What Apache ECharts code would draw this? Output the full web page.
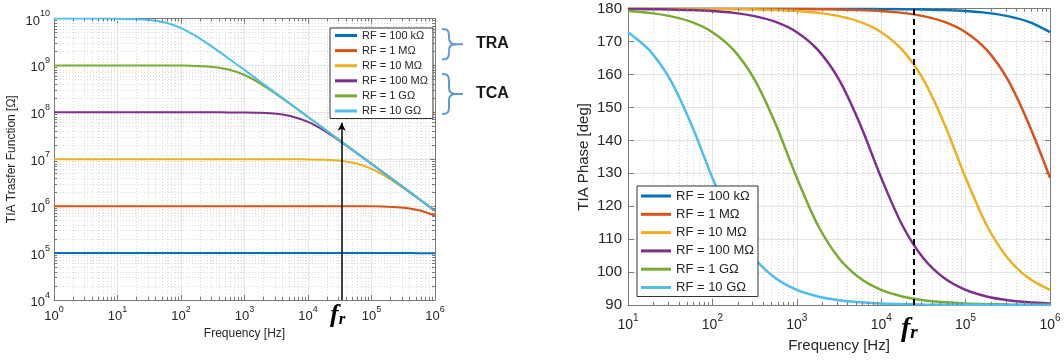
<!DOCTYPE html>
<html>
<head>
<meta charset="utf-8">
<script src="https://cdn.jsdelivr.net/npm/echarts@6/dist/echarts.min.js"></script>
<style>
  html, body { margin: 0; padding: 0; background: #fff; }
  #chart { width: 1064px; height: 362px; }
</style>
</head>
<body>
<div id="chart"></div>
<script>
// series names / colours (MATLAB default order)
const names = ['RF = 100 kΩ', 'RF = 1 MΩ', 'RF = 10 MΩ', 'RF = 100 MΩ', 'RF = 1 GΩ', 'RF = 10 GΩ'];
const colors = ['#0072BD', '#D95319', '#EDB120', '#7E2F8E', '#77AC30', '#4DBEEE'];

// frequencies, quarter decade steps [Hz]
const freqMag = [1, 1.778, 3.162, 5.623, 10, 17.78, 31.62, 56.23, 100, 177.8, 316.2, 562.3,
  1000, 1778, 3162, 5623, 1e4, 17783, 31623, 56234, 1e5, 177828, 316228, 562341, 1e6];
const freqPhase = [10, 17.78, 31.62, 56.23, 100, 177.8, 316.2, 562.3,
  1000, 1778, 3162, 5623, 1e4, 17783, 31623, 56234, 1e5, 177828, 316228, 562341, 1e6];

// |Z| [ohm]
const mag100k = [1e5, 1e5, 1e5, 1e5, 1e5, 1e5, 1e5, 1e5, 1e5, 1e5, 1e5, 1e5, 1e5, 1e5, 1e5, 1e5,
  1e5, 1e5, 1e5, 1e5, 1e5, 99980, 99920, 99750, 99230];
const mag1M = [1e6, 1e6, 1e6, 1e6, 1e6, 1e6, 1e6, 1e6, 1e6, 1e6, 1e6, 1e6, 1e6, 1e6, 1e6, 1e6, 1e6,
  999800, 999200, 997500, 992300, 976200, 930000, 818100, 624700];
const mag10M = [1e7, 1e7, 1e7, 1e7, 1e7, 1e7, 1e7, 1e7, 1e7, 1e7, 1e7, 1e7, 1e7,
  9.998e6, 9.992e6, 9.975e6, 9.923e6, 9.762e6, 9.3e6, 8.181e6, 6.247e6, 4.103e6, 2.452e6, 1.408e6, 7.97e5];
const mag100M = [1e8, 1e8, 1e8, 1e8, 1e8, 1e8, 1e8, 1e8, 1e8,
  9.998e7, 9.992e7, 9.975e7, 9.923e7, 9.762e7, 9.3e7, 8.181e7, 6.247e7, 4.103e7, 2.452e7, 1.408e7,
  7.97e6, 4.49e6, 2.53e6, 1.42e6, 8.0e5];
const mag1G = [1e9, 1e9, 1e9, 1e9, 1e9,
  9.998e8, 9.992e8, 9.975e8, 9.923e8, 9.762e8, 9.3e8, 8.181e8, 6.247e8, 4.103e8, 2.452e8, 1.408e8,
  7.97e7, 4.49e7, 2.53e7, 1.42e7, 8.0e6, 4.5e6, 2.53e6, 1.42e6, 8.0e5];
const mag10G = [1e10, 9.998e9, 9.992e9, 9.975e9, 9.923e9, 9.762e9, 9.3e9, 8.181e9, 6.247e9, 4.103e9,
  2.452e9, 1.408e9, 7.97e8, 4.49e8, 2.53e8, 1.42e8, 8.0e7, 4.5e7, 2.53e7, 1.42e7, 8.0e6, 4.5e6,
  2.53e6, 1.42e6, 8.0e5];

// phase [deg]
const ph100k = [180, 180, 180, 180, 180, 180, 180, 180, 180, 180, 180, 180,
  179.93, 179.87, 179.77, 179.6, 179.28, 178.73, 177.74, 175.98, 172.87];
const ph1M = [180, 180, 180, 180, 179.99, 179.99, 179.98, 179.96, 179.93, 179.87, 179.77, 179.6,
  179.28, 178.73, 177.74, 175.98, 172.87, 167.47, 158.43, 144.9, 128.66];
const ph10M = [179.99, 179.99, 179.98, 179.96, 179.93, 179.87, 179.77, 179.6, 179.28, 178.73, 177.74,
  175.98, 172.87, 167.47, 158.43, 144.9, 128.66, 114.22, 104.2, 98.1, 94.57];
const ph100M = [179.93, 179.87, 179.77, 179.6, 179.28, 178.73, 177.74, 175.98, 172.87, 167.47, 158.43,
  144.9, 128.66, 114.22, 104.2, 98.1, 94.57, 92.58, 91.45, 90.82, 90.46];
const ph1G = [179.28, 178.73, 177.74, 175.98, 172.87, 167.47, 158.43, 144.9, 128.66, 114.22, 104.2,
  98.1, 94.57, 92.58, 91.45, 90.82, 90.46, 90.26, 90.14, 90.08, 90.05];
const ph10G = [172.87, 167.47, 158.43, 144.9, 128.66, 114.22, 104.2, 98.1, 94.57, 92.58, 91.45,
  90.82, 90.46, 90.26, 90.14, 90.08, 90.05, 90.03, 90.01, 90.01, 90.0];

const magSets = [mag100k, mag1M, mag10M, mag100M, mag1G, mag10G];
const phSets = [ph100k, ph1M, ph10M, ph100M, ph1G, ph10G];

// f_r markers
const frLeft = 34000;
const frLeftTop = 6.0e7;
const frRight = 24000;

// minor log grid (2..9 per decade)
const minorMult = [2, 3, 4, 5, 6, 7, 8, 9];
const decadesX = [1, 10, 100, 1000, 1e4, 1e5];
const decadesXr = [10, 100, 1000, 1e4, 1e5];
const decadesY = [1e4, 1e5, 1e6, 1e7, 1e8, 1e9];

const FONT = '"Liberation Sans", Arial, sans-serif';
const TXT = '#262626';
const AX = '#7a7a7a';

const minorVals = decs => decs.flatMap(d => minorMult.map(m => m * d));

const logLabel = (size, sup, margin) => ({
  margin: margin,
  fontFamily: FONT,
  formatter: v => '{b|10}{s|' + Math.round(Math.log10(v)) + '}',
  rich: {
    b: { fontSize: size, color: TXT, fontFamily: FONT, verticalAlign: 'bottom', lineHeight: size + 5 },
    s: { fontSize: sup, color: TXT, fontFamily: FONT, verticalAlign: 'top', lineHeight: size + 5 }
  }
});

const boxAxis = (grid, pos, type, min, max, extra) => Object.assign({
  gridIndex: grid, position: pos, type: type, min: min, max: max,
  axisLine: { show: true, lineStyle: { color: AX, width: 1 } },
  axisTick: { show: true, inside: true, length: 5, lineStyle: { color: AX } },
  axisLabel: { show: false },
  splitLine: { show: false }
}, extra);

// curly brace from bezier pieces
const braceStyle = { stroke: '#5B9BD5', lineWidth: 2, fill: null };
function brace(x0, y0, y1, tip) {
  const xm = x0 + 7, ym = (y0 + y1) / 2;
  const bz = (a, b, c, d) => ({
    type: 'bezierCurve', silent: true, style: braceStyle,
    shape: { x1: a[0], y1: a[1], cpx1: b[0], cpy1: b[1], cpx2: c[0], cpy2: c[1], x2: d[0], y2: d[1] }
  });
  return [
    bz([x0, y0], [x0 + 6, y0], [xm, y0 + 2], [xm, y0 + 7]),
    { type: 'line', silent: true, style: braceStyle, shape: { x1: xm, y1: y0 + 7, x2: xm, y2: ym - 6 } },
    bz([xm, ym - 6], [xm, ym - 1], [xm + 3, ym], [xm + 7, ym]),
    { type: 'line', silent: true, style: braceStyle, shape: { x1: xm + 7, y1: ym, x2: tip, y2: ym } },
    bz([xm + 7, ym], [xm + 3, ym], [xm, ym + 1], [xm, ym + 6]),
    { type: 'line', silent: true, style: braceStyle, shape: { x1: xm, y1: ym + 6, x2: xm, y2: y1 - 7 } },
    bz([xm, y1 - 7], [xm, y1 - 2], [x0 + 6, y1], [x0, y1])
  ];
}

const gridStyle = { color: '#e4e4e4', width: 1 };
const minorStyle = { color: '#dadada', width: 1, type: [1, 2] };
const tickStyle = { color: AX, width: 1, type: 'solid' };

// minor tick segments on the box edges (factor = tick length in axis units)
const vTicks = (vals, lo, hi, mulLo, mulHi) => vals.flatMap(v => [
  [{ coord: [v, lo] }, { coord: [v, mulLo(lo)] }],
  [{ coord: [v, hi] }, { coord: [v, mulHi(hi)] }]
]);
const hTicks = (vals, lo, hi, mulLo, mulHi) => vals.flatMap(v => [
  [{ coord: [lo, v] }, { coord: [mulLo(lo), v] }],
  [{ coord: [hi, v] }, { coord: [mulHi(hi), v] }]
]);

const series = [];
names.forEach((n, i) => {
  series.push({
    name: n, type: 'line', xAxisIndex: 0, yAxisIndex: 0,
    data: freqMag.map((f, j) => [f, magSets[i][j]]),
    showSymbol: false, smooth: 0.3, lineStyle: { width: 2, color: colors[i] },
    itemStyle: { color: colors[i] }, z: 3
  });
});
names.forEach((n, i) => {
  series.push({
    name: n, type: 'line', xAxisIndex: 1, yAxisIndex: 1,
    data: freqPhase.map((f, j) => [f, phSets[i][j]]),
    showSymbol: false, smooth: 0.3, lineStyle: { width: 2.5, color: colors[i] },
    itemStyle: { color: colors[i] }, z: 3
  });
});

const mlBase = { silent: true, symbol: ['none', 'none'], label: { show: false }, emphasis: { disabled: true } };

// minor grid
series[0].markLine = Object.assign({}, mlBase, {
  z: 1, lineStyle: minorStyle,
  data: minorVals(decadesX).map(v => ({ xAxis: v }))
    .concat(minorVals(decadesY).map(v => ({ yAxis: v })))
});
series[6].markLine = Object.assign({}, mlBase, {
  z: 1, lineStyle: minorStyle,
  data: minorVals(decadesXr).map(v => ({ xAxis: v }))
});
// minor ticks
series[1].markLine = Object.assign({}, mlBase, {
  z: 4, lineStyle: tickStyle,
  data: vTicks(minorVals(decadesX), 1e4, 1e10, v => v * 1.16, v => v / 1.16)
    .concat(hTicks(minorVals(decadesY), 1, 1e6, v => v * 1.115, v => v / 1.115))
});
series[7].markLine = Object.assign({}, mlBase, {
  z: 4, lineStyle: tickStyle,
  data: vTicks(minorVals(decadesXr), 90, 180, v => v + 0.9, v => v - 0.9)
});
// f_r arrow (left) and dashed line (right)
series[5].markLine = Object.assign({}, mlBase, {
  z: 6, symbol: ['none', 'arrow'], symbolSize: [6, 8],
  lineStyle: { color: '#000', width: 1.5, type: 'solid' },
  data: [[{ coord: [frLeft, 1e4] }, { coord: [frLeft, frLeftTop] }]]
});
series[11].markLine = Object.assign({}, mlBase, {
  z: 6, lineStyle: { color: '#000', width: 2, type: [6, 4] },
  data: [{ xAxis: frRight }]
});

const legendBase = {
  orient: 'vertical', icon: 'rect', backgroundColor: '#fff',
  borderColor: '#333', borderWidth: 1, borderRadius: 0,
  data: names, selectedMode: false
};

const frRich = (big, small) => ({
  f: { fontSize: big, fontStyle: 'italic', fontWeight: 'bold', fontFamily: '"Liberation Serif", serif', fill: '#000', verticalAlign: 'bottom', lineHeight: big },
  r: { fontSize: small, fontStyle: 'italic', fontWeight: 'bold', fontFamily: '"Liberation Serif", serif', fill: '#000', verticalAlign: 'bottom', lineHeight: big - 3 }
});

const chart = echarts.init(document.getElementById('chart'), null, { renderer: 'canvas' });
chart.setOption({
  animation: false,
  textStyle: { fontFamily: FONT },
  grid: [
    { left: 54, right: 629, top: 18.5, bottom: 62 },
    { left: 628, right: 14, top: 8.7, bottom: 57 }
  ],
  xAxis: [
    {
      gridIndex: 0, type: 'log', min: 1, max: 1e6, splitNumber: 6,
      name: 'Frequency [Hz]', nameLocation: 'middle', nameGap: 28,
      nameTextStyle: { fontSize: 12, color: TXT, fontFamily: FONT },
      axisLine: { lineStyle: { color: AX } },
      axisTick: { inside: true, length: 5, lineStyle: { color: AX } },
      axisLabel: logLabel(13, 9, 5),
      splitLine: { show: true, lineStyle: gridStyle }
    },
    {
      gridIndex: 1, type: 'log', min: 10, max: 1e6, splitNumber: 5,
      name: 'Frequency [Hz]', nameLocation: 'middle', nameGap: 33,
      nameTextStyle: { fontSize: 15, color: TXT, fontFamily: FONT },
      axisLine: { lineStyle: { color: AX } },
      axisTick: { inside: true, length: 6, lineStyle: { color: AX } },
      axisLabel: logLabel(14, 10, 8),
      splitLine: { show: true, lineStyle: gridStyle }
    },
    boxAxis(0, 'top', 'log', 1, 1e6, { splitNumber: 6 }),
    boxAxis(1, 'top', 'log', 10, 1e6, { splitNumber: 5 })
  ],
  yAxis: [
    {
      gridIndex: 0, type: 'log', min: 1e4, max: 1e10, splitNumber: 6,
      name: 'TIA Trasfer Function [Ω]', nameLocation: 'middle', nameGap: 36,
      nameTextStyle: { fontSize: 12, color: TXT, fontFamily: FONT },
      axisLine: { lineStyle: { color: AX } },
      axisTick: { inside: true, length: 5, lineStyle: { color: AX } },
      axisLabel: logLabel(13, 9, 4),
      splitLine: { show: true, lineStyle: gridStyle }
    },
    {
      gridIndex: 1, type: 'value', min: 90, max: 180, interval: 10,
      name: 'TIA Phase [deg]', nameLocation: 'middle', nameGap: 37,
      nameTextStyle: { fontSize: 15, color: TXT, fontFamily: FONT },
      axisLine: { lineStyle: { color: AX } },
      axisTick: { inside: true, length: 6, lineStyle: { color: AX } },
      axisLabel: { fontSize: 15, color: TXT, fontFamily: FONT, margin: 6 },
      splitLine: { show: true, lineStyle: gridStyle }
    },
    boxAxis(0, 'right', 'log', 1e4, 1e10, { splitNumber: 6 }),
    boxAxis(1, 'right', 'value', 90, 180, { interval: 10 })
  ],
  legend: [
    Object.assign({}, legendBase, {
      left: 330, top: 28, padding: [1, 5, 1, 5], itemWidth: 22, itemHeight: 3, itemGap: 2.1,
      textStyle: { fontSize: 11, color: TXT, fontFamily: FONT, lineHeight: 13 }
    }),
    Object.assign({}, legendBase, {
      left: 637, top: 186, padding: [2, 4, 1, 4], itemWidth: 30, itemHeight: 3, itemGap: 2.3,
      textStyle: { fontSize: 13, color: TXT, fontFamily: FONT, lineHeight: 16 }
    })
  ],
  graphic: brace(442, 29, 59.5, 463).concat(brace(442, 74, 114, 463)).concat([
    {
      type: 'text', left: 476, top: 36, silent: true,
      style: { text: 'TRA', fontSize: 16, fontWeight: 'bold', fill: '#1a1a1a', fontFamily: FONT }
    },
    {
      type: 'text', left: 476, top: 86, silent: true,
      style: { text: 'TCA', fontSize: 16, fontWeight: 'bold', fill: '#1a1a1a', fontFamily: FONT }
    },
    {
      type: 'text', left: 330, top: 302, silent: true,
      style: { text: '{f|f}{r|r}', rich: frRich(26, 17) }
    },
    {
      type: 'text', left: 901, top: 315, silent: true,
      style: { text: '{f|f}{r|r}', rich: frRich(28, 19) }
    }
  ]),
  series: series
});
</script>
</body>
</html>
